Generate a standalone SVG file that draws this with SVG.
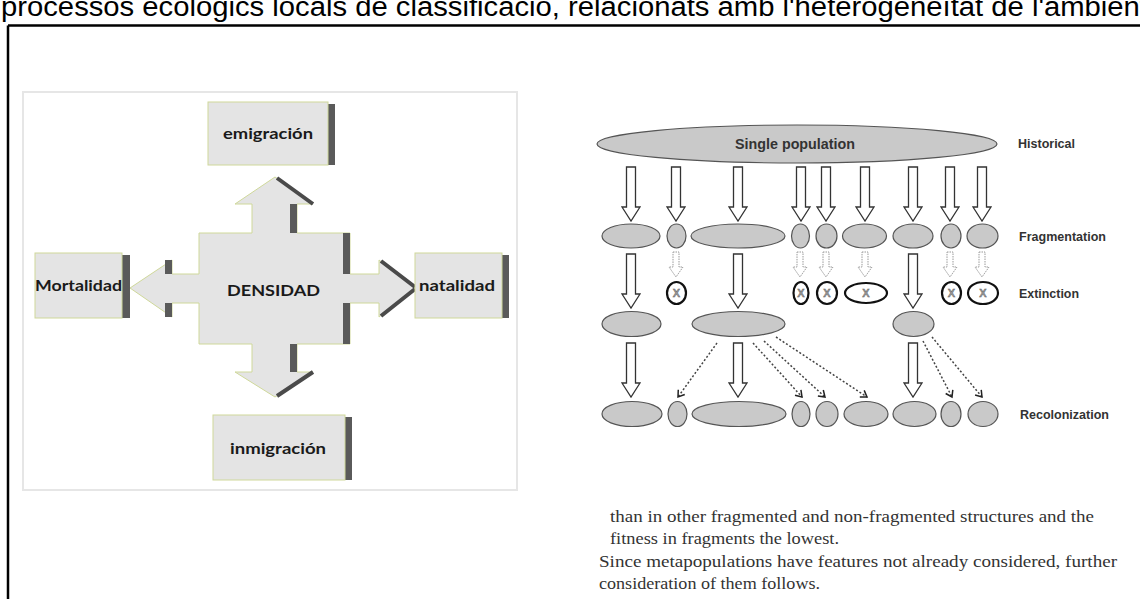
<svg xmlns="http://www.w3.org/2000/svg" width="1140" height="599" viewBox="0 0 1140 599">
<style>
.title{font-family:"Liberation Sans",Arial,sans-serif;font-size:27px;fill:#000}
.lbl{font-family:Lato,"Liberation Sans",sans-serif;font-weight:700;font-size:16px;fill:#1a1a1a}
.box{fill:#e4e4e4;stroke:#cfd89a;stroke-width:1}
.shd{fill:#5a5a5a}
.ell{fill:#c9c9c9;stroke:#555;stroke-width:1.2}
.ext{fill:#fff;stroke:#111;stroke-width:2.2}
.xt{font-family:"Liberation Sans",Arial,sans-serif;font-weight:700;font-size:11px;fill:#9a9a9a;stroke:#555;stroke-width:0.4;text-anchor:middle}
.rl{font-family:"Liberation Sans",Arial,sans-serif;font-weight:700;font-size:12px;fill:#333}
.big{fill:#fff;stroke:#333;stroke-width:1.3}
.sm{fill:#fff;stroke:#999;stroke-width:1;stroke-dasharray:1.5 1}
.dot{fill:none;stroke:#444;stroke-width:1.5;stroke-dasharray:2 2}
.body{font-family:"Liberation Serif","Times New Roman",serif;font-size:16px;fill:#333}
</style>
<defs>
<path id="bigA" d="M-4.5,0 H4.5 V40 H9 L0,54 L-9,40 H-4.5 Z"/>
<path id="smA" d="M-3,0 H3 V15 H7 L0,25 L-7,15 H-3 Z"/>
<marker id="chev" markerWidth="10" markerHeight="10" refX="8" refY="5" orient="auto" markerUnits="userSpaceOnUse">
<path d="M2,1 L8,5 L2,9" fill="none" stroke="#222" stroke-width="1.5"/>
</marker>
</defs>
<rect width="1140" height="599" fill="#fff"/>
<text class="title" x="1" y="16" textLength="1147" lengthAdjust="spacingAndGlyphs">processos ecològics locals de classificació, relacionats amb l'heterogeneïtat de l'ambient</text>
<path d="M8,25.5 H1140 M8,25.5 V599" fill="none" stroke="#000" stroke-width="2.5"/>

<g id="left-diagram">
<rect x="23" y="92" width="494" height="398" fill="#fff" stroke="#e6e6e6" stroke-width="2"/>
<g id="densidad">
<path d="M275,177 L313,204 H297 V233 H350 V274 H379 V260 L415,288 L379,317 V303 H350 V344 H297 V372 H313 L275,397 L235,372 H252 V344 H199 V303 H172 V317 L130,288 L172,260 V274 H199 V233 H252 V204 H235 Z" fill="#e4e4e4" stroke="#cfd89a" stroke-width="1"/>
<rect class="shd" x="290" y="204" width="7" height="29"/>
<rect class="shd" x="343" y="233" width="7" height="41"/>
<rect class="shd" x="343" y="303" width="7" height="41"/>
<rect class="shd" x="290" y="344" width="7" height="28"/>
<rect class="shd" x="165" y="260" width="7" height="14"/>
<rect class="shd" x="165" y="303" width="7" height="14"/>
<path d="M277,178 L313,204 M381,261 L415,287 M381,316 L415,289 M313,372 L277,396" stroke="#4a4a4a" stroke-width="4" fill="none"/>
<text class="lbl" x="227" y="296" textLength="93" lengthAdjust="spacingAndGlyphs">DENSIDAD</text>
</g>
<g id="emigracion">
<rect class="shd" x="326" y="104" width="9" height="61"/>
<rect class="box" x="208" y="102" width="120" height="63"/>
<text class="lbl" x="223" y="139" textLength="90" lengthAdjust="spacingAndGlyphs">emigración</text>
</g>
<g id="mortalidad">
<rect class="shd" x="120" y="255" width="10" height="63"/>
<rect class="box" x="35" y="253" width="87" height="65"/>
<text class="lbl" x="35" y="291" textLength="87" lengthAdjust="spacingAndGlyphs">Mortalidad</text>
</g>
<g id="natalidad">
<rect class="shd" x="500" y="255" width="9" height="63"/>
<rect class="box" x="415" y="253" width="87" height="65"/>
<text class="lbl" x="419" y="291" textLength="76" lengthAdjust="spacingAndGlyphs">natalidad</text>
</g>
<g id="inmigracion">
<rect class="shd" x="343" y="417" width="9" height="63"/>
<rect class="box" x="213" y="415" width="132" height="65"/>
<text class="lbl" x="230" y="454" textLength="96" lengthAdjust="spacingAndGlyphs">inmigración</text>
</g>
</g>

<g id="right-diagram">
<g id="single-population">
<ellipse class="ell" cx="797" cy="144" rx="200" ry="19"/>
<text class="rl" x="735" y="149" style="font-size:14px" textLength="120" lengthAdjust="spacingAndGlyphs">Single population</text>
</g>
<g id="labels">
<text class="rl" x="1018" y="148" textLength="57" lengthAdjust="spacingAndGlyphs">Historical</text>
<text class="rl" x="1019" y="241" textLength="87" lengthAdjust="spacingAndGlyphs">Fragmentation</text>
<text class="rl" x="1019" y="298" textLength="60" lengthAdjust="spacingAndGlyphs">Extinction</text>
<text class="rl" x="1020" y="419" textLength="89" lengthAdjust="spacingAndGlyphs">Recolonization</text>
</g>
<g id="fragmentation">
<ellipse class="ell" cx="631" cy="236" rx="29" ry="12"/>
<ellipse class="ell" cx="676.5" cy="236" rx="9.5" ry="12"/>
<ellipse class="ell" cx="738" cy="236" rx="47" ry="12"/>
<ellipse class="ell" cx="800.5" cy="236" rx="9" ry="12"/>
<ellipse class="ell" cx="826.5" cy="236" rx="10.5" ry="12"/>
<ellipse class="ell" cx="864.5" cy="236" rx="22" ry="12"/>
<ellipse class="ell" cx="913" cy="236" rx="20" ry="12"/>
<ellipse class="ell" cx="951" cy="236" rx="10" ry="12"/>
<ellipse class="ell" cx="982.5" cy="236" rx="15.5" ry="12"/>
</g>
<g id="extinction">
<ellipse class="ext" cx="676.5" cy="293" rx="9.5" ry="11"/>
<ellipse class="ext" cx="801" cy="293" rx="7.5" ry="11"/>
<ellipse class="ext" cx="827" cy="293" rx="10" ry="11"/>
<ellipse class="ext" cx="866" cy="293" rx="21" ry="10"/>
<ellipse class="ext" cx="951.5" cy="293" rx="9.5" ry="11"/>
<ellipse class="ext" cx="983" cy="293" rx="15" ry="11"/>
<text class="xt" x="676.5" y="297">X</text>
<text class="xt" x="801" y="297">X</text>
<text class="xt" x="827" y="297">X</text>
<text class="xt" x="866" y="297">X</text>
<text class="xt" x="951.5" y="297">X</text>
<text class="xt" x="983" y="297">X</text>
</g>
<g id="survivors">
<ellipse class="ell" cx="631.5" cy="324" rx="29.5" ry="12.5"/>
<ellipse class="ell" cx="738.5" cy="324" rx="46.5" ry="12.5"/>
<ellipse class="ell" cx="913.5" cy="324" rx="20.5" ry="12.5"/>
</g>
<g id="recolonization">
<ellipse class="ell" cx="632" cy="414" rx="30" ry="12.5"/>
<ellipse class="ell" cx="677.5" cy="414" rx="9.5" ry="12.5"/>
<ellipse class="ell" cx="739" cy="414" rx="47" ry="12.5"/>
<ellipse class="ell" cx="801" cy="414" rx="9" ry="12.5"/>
<ellipse class="ell" cx="827" cy="414" rx="11" ry="12.5"/>
<ellipse class="ell" cx="866" cy="414" rx="22" ry="12.5"/>
<ellipse class="ell" cx="914.5" cy="414" rx="21.5" ry="12.5"/>
<ellipse class="ell" cx="951" cy="414" rx="10" ry="12.5"/>
<ellipse class="ell" cx="983" cy="414" rx="15" ry="12.5"/>
</g>
<g id="connectors">
<use href="#bigA" class="big" transform="translate(631,167)"/>
<use href="#bigA" class="big" transform="translate(676,167)"/>
<use href="#bigA" class="big" transform="translate(738,167)"/>
<use href="#bigA" class="big" transform="translate(801,167)"/>
<use href="#bigA" class="big" transform="translate(826,167)"/>
<use href="#bigA" class="big" transform="translate(865,167)"/>
<use href="#bigA" class="big" transform="translate(913,167)"/>
<use href="#bigA" class="big" transform="translate(950,167)"/>
<use href="#bigA" class="big" transform="translate(982,167)"/>
<use href="#bigA" class="big" transform="translate(631,254)"/>
<use href="#bigA" class="big" transform="translate(738,254)"/>
<use href="#bigA" class="big" transform="translate(913,254)"/>
<use href="#smA" class="sm" transform="translate(676,252)"/>
<use href="#smA" class="sm" transform="translate(800,252)"/>
<use href="#smA" class="sm" transform="translate(826,252)"/>
<use href="#smA" class="sm" transform="translate(865,252)"/>
<use href="#smA" class="sm" transform="translate(950,252)"/>
<use href="#smA" class="sm" transform="translate(982,252)"/>
<use href="#bigA" class="big" transform="translate(631,343)"/>
<use href="#bigA" class="big" transform="translate(738,343)"/>
<use href="#bigA" class="big" transform="translate(913,343)"/>
<path class="dot" d="M717,343 L678,397" marker-end="url(#chev)"/>
<path class="dot" d="M753,343 L802,397" marker-end="url(#chev)"/>
<path class="dot" d="M764,341 L825,397" marker-end="url(#chev)"/>
<path class="dot" d="M776,337 L867,397" marker-end="url(#chev)"/>
<path class="dot" d="M923,341 L952,397" marker-end="url(#chev)"/>
<path class="dot" d="M932,337 L982,397" marker-end="url(#chev)"/>
</g>
</g>

<g id="body-text">
<text class="body" x="610" y="522" textLength="484" lengthAdjust="spacingAndGlyphs">than in other fragmented and non-fragmented structures and the</text>
<text class="body" x="610" y="544" textLength="229" lengthAdjust="spacingAndGlyphs">fitness in fragments the lowest.</text>
<text class="body" x="599" y="567" textLength="518" lengthAdjust="spacingAndGlyphs">Since metapopulations have features not already considered, further</text>
<text class="body" x="599" y="589" textLength="221" lengthAdjust="spacingAndGlyphs">consideration of them follows.</text>
</g>
</svg>
